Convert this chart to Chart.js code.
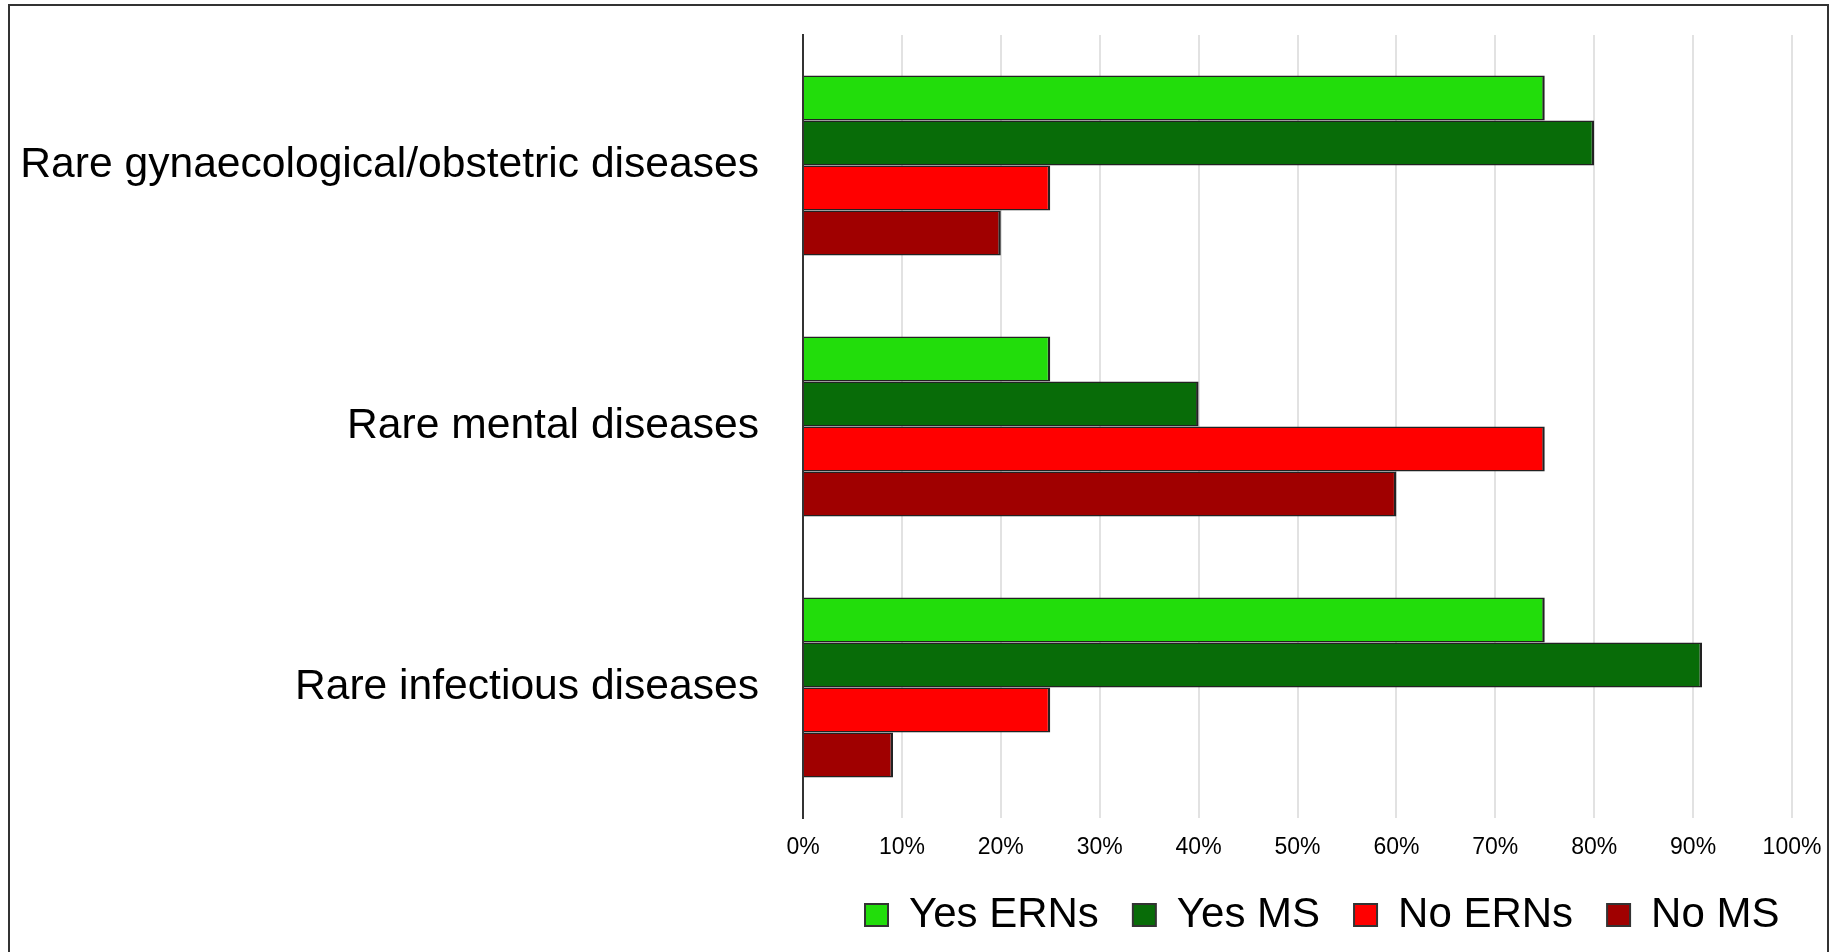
<!DOCTYPE html>
<html>
<head>
<meta charset="utf-8">
<title>Rare diseases – ERNs and MS</title>
<script src="https://cdn.jsdelivr.net/npm/chart.js@4/dist/chart.umd.min.js"></script>
<style>
  html, body { margin: 0; padding: 0; background: #fff; overflow: hidden; }
  #wrap { position: relative; width: 1831px; height: 952px; overflow: hidden; }
  #frame { position: absolute; left: 8px; top: 4px; width: 1821px; height: 1000px;
           border: 2px solid #333; box-sizing: border-box; pointer-events: none; }
  #chart { position: absolute; left: 0; top: 0; }
</style>
</head>
<body>
<div id="wrap">
  <canvas id="chart" width="1831" height="952"></canvas>
  <div id="frame"></div>
</div>
<script>
// Disease groups (top to bottom)
const categories = [
  'Rare gynaecological/obstetric diseases',
  'Rare mental diseases',
  'Rare infectious diseases'
];

// Share of answers per group, in percent
const yesErns = [75, 25, 75];
const yesMs   = [80, 40, 90.9];
const noErns  = [25, 75, 25];
const noMs    = [20, 60, 9.1];

const seriesNames = ['Yes ERNs', 'Yes MS', 'No ERNs', 'No MS'];
const seriesColors = ['#22DD0B', '#086C08', '#FF0000', '#A00000'];

const xTickLabels = ['0%', '10%', '20%', '30%', '40%', '50%', '60%', '70%', '80%', '90%', '100%'];

Chart.defaults.font.family = "'Liberation Sans', Arial, sans-serif";
Chart.defaults.color = '#000';

const edgeColor = '#222';

function makeDataset(label, values, color) {
  return {
    label: label,
    data: values,
    backgroundColor: color,
    borderColor: edgeColor,
    borderWidth: { top: 1.5, bottom: 1.5, right: 2.5, left: 0 },
    borderSkipped: false,
    inflateAmount: 0,
    categoryPercentage: 0.69,
    barPercentage: 1.0
  };
}

// Fixed legend band height and horizontal start of the legend row
const legendBand = {
  id: 'legendBand',
  beforeLayout(chart) {
    const lg = chart.legend;
    if (lg && !lg._bandFit) {
      const baseFit = lg.fit.bind(lg);
      lg.fit = function () { baseFit(); this.height = 92; };
      lg._bandFit = true;
    }
  },
  afterLayout(chart) {
    const lg = chart.legend;
    if (lg) {
      lg.left = chart.chartArea.left + 28;
      lg.right = chart.width;
    }
  }
};

new Chart(document.getElementById('chart'), {
  type: 'bar',
  data: {
    labels: categories,
    datasets: [
      makeDataset(seriesNames[0], yesErns, seriesColors[0]),
      makeDataset(seriesNames[1], yesMs, seriesColors[1]),
      makeDataset(seriesNames[2], noErns, seriesColors[2]),
      makeDataset(seriesNames[3], noMs, seriesColors[3])
    ]
  },
  options: {
    indexAxis: 'y',
    responsive: false,
    animation: false,
    devicePixelRatio: 1,
    layout: { padding: { top: 35, right: 39, left: 0, bottom: 0 } },
    scales: {
      x: {
        min: 0,
        max: 100,
        ticks: {
          stepSize: 10,
          autoSkip: false,
          maxRotation: 0,
          padding: 16,
          color: '#000',
          font: { size: 23 },
          callback: (value, index) => xTickLabels[index]
        },
        grid: {
          color: (ctx) => ctx.index === 0 ? 'rgba(0,0,0,0)' : '#e2e2e2',
          lineWidth: 2,
          drawTicks: false
        },
        border: { display: false },
        afterFit(scale) {
          scale.height = 42;
          scale.paddingLeft = 0;
          scale.paddingRight = 0;
        }
      },
      y: {
        ticks: {
          padding: 44,
          color: '#000',
          autoSkip: false,
          font: { size: 42.6 }
        },
        grid: { display: false, drawTicks: false },
        border: { display: true, color: '#333', width: 2 },
        afterFit(scale) {
          scale.width = 803;
          scale.paddingTop = 0;
          scale.paddingBottom = 0;
        }
      }
    },
    plugins: {
      tooltip: { enabled: false },
      legend: {
        position: 'bottom',
        align: 'start',
        labels: {
          boxWidth: 23,
          boxHeight: 22,
          padding: 34,
          color: '#000',
          font: { size: 42 },
          generateLabels(chart) {
            const items = Chart.defaults.plugins.legend.labels.generateLabels(chart);
            items.forEach(it => { it.lineWidth = 2; it.strokeStyle = '#333'; });
            return items;
          }
        }
      }
    }
  },
  plugins: [legendBand]
});
</script>
</body>
</html>
